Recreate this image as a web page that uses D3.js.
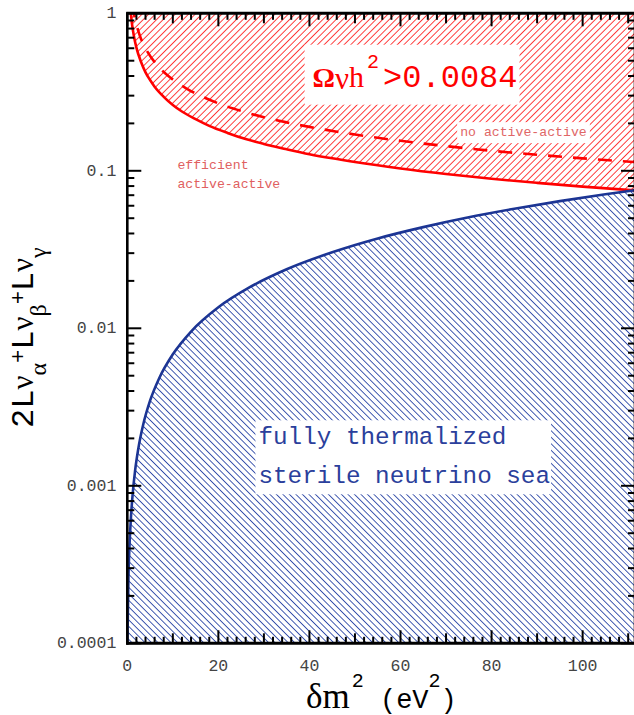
<!DOCTYPE html>
<html><head><meta charset="utf-8">
<script src="https://cdn.jsdelivr.net/npm/d3@7"></script>
<style>
html,body{margin:0;padding:0;background:#fff;}
svg{display:block;}
</style></head>
<body>
<svg id="chart" width="634" height="715"></svg>
<script>
// ---- data ----
const xDomain = [0, 111.5];
const yDomain = [1e-4, 1];

// solid red boundary (Omega h^2 > 0.0084 region lies above it)
const redSolidX = [0.78, 1, 1.5, 2, 3, 4, 5, 6, 8, 10, 12, 15, 18, 22, 26, 30, 35, 40, 45, 50, 60, 70, 80, 90, 100, 111.5];
const redSolidY = [1.0, 0.87, 0.705, 0.605, 0.492, 0.422, 0.377, 0.342, 0.295, 0.262, 0.238, 0.213, 0.193, 0.174, 0.159, 0.148, 0.137, 0.1275, 0.120, 0.1137, 0.1035, 0.0955, 0.089, 0.0838, 0.0793, 0.075];

// dashed red boundary (no active-active)
const dashedX = [1.44, 2, 3, 4, 6, 8, 10, 13, 16, 20, 25, 30, 35, 40, 50, 60, 70, 80, 90, 100, 111.5];
const dashedY = [1.0, 0.85, 0.69, 0.60, 0.49, 0.424, 0.38, 0.333, 0.30, 0.268, 0.24, 0.219, 0.203, 0.19, 0.17, 0.155, 0.1435, 0.134, 0.1265, 0.12, 0.1136];

// blue boundary (fully thermalized region lies below it)
const blueX = [0.02, 0.25, 0.5, 0.8, 1.2, 1.7, 2.4, 3.5, 5, 7, 10, 14, 20, 27, 35, 45, 55, 65, 75, 85, 95, 105, 111.5];
const blueY = [0.0001, 0.00026, 0.00043, 0.00063, 0.00090, 0.00124, 0.00171, 0.00245, 0.00347, 0.00482, 0.00684, 0.00954, 0.01359, 0.0183, 0.0237, 0.0304, 0.0372, 0.0439, 0.0507, 0.0574, 0.0642, 0.0710, 0.0753];

const xTickLabels = [0, 20, 40, 60, 80, 100];
const yTickValues = [1e-4, 1e-3, 1e-2, 1e-1, 1];
const yTickLabels = ["0.0001", "0.001", "0.01", "0.1", "1"];

// ---- layout ----
const svg = d3.select("#chart");
const L = 127.3, R = 635, T = 13.3, B = 643.3;
const x = d3.scaleLinear().domain(xDomain).range([L, R]);
const y = d3.scaleLog().domain(yDomain).range([B, T]);

const RED = "#ff0000", BLUE = "#1c3594";
const mono = "'Liberation Mono', 'Courier New', monospace";
const serif = "'Liberation Serif', 'Times New Roman', serif";

const defs = svg.append("defs");
defs.append("clipPath").attr("id", "plotclip").append("rect")
  .attr("x", L).attr("y", T).attr("width", R - L).attr("height", B - T);

function hatch(id, color, angle, gap, w) {
  const p = defs.append("pattern").attr("id", id)
    .attr("patternUnits", "userSpaceOnUse")
    .attr("width", gap).attr("height", gap)
    .attr("patternTransform", `rotate(${angle})`);
  p.append("line").attr("x1", gap / 2).attr("y1", -1).attr("x2", gap / 2).attr("y2", gap + 1)
    .attr("stroke", color).attr("stroke-width", w);
}
hatch("redHatch", "#ff2a2a", 45, 4.7, 0.9);
hatch("blueHatch", "#2f4aa8", -45, 4.6, 0.9);

const redData = redSolidX.map((v, i) => [v, redSolidY[i]]);
const dashData = dashedX.map((v, i) => [v, dashedY[i]]);
const blueData = blueX.map((v, i) => [v, blueY[i]]);

const plot = svg.append("g").attr("clip-path", "url(#plotclip)");

// filled (hatched) regions
plot.append("path").datum(redData)
  .attr("d", d3.area().x(d => x(d[0])).y0(y(1)).y1(d => y(d[1])).curve(d3.curveMonotoneX))
  .attr("fill", "url(#redHatch)");
plot.append("path").datum(blueData)
  .attr("d", d3.area().x(d => x(d[0])).y0(y(1e-4)).y1(d => y(d[1])).curve(d3.curveMonotoneX))
  .attr("fill", "url(#blueHatch)");

// curves
const line = d3.line().x(d => x(d[0])).y(d => y(d[1])).curve(d3.curveMonotoneX);
plot.append("path").datum(redData).attr("d", line)
  .attr("fill", "none").attr("stroke", RED).attr("stroke-width", 2.6);
plot.append("path").datum(dashData).attr("d", line)
  .attr("fill", "none").attr("stroke", RED).attr("stroke-width", 2.6)
  .attr("stroke-dasharray", "14,11").attr("stroke-dashoffset", 10);
plot.append("path").datum(blueData).attr("d", line)
  .attr("fill", "none").attr("stroke", BLUE).attr("stroke-width", 2.6);

// ---- annotations with white boxes ----
const ann = svg.append("g");
function boxed(textSel, padL, padR, padT, padB) {
  const bb = textSel.node().getBBox();
  ann.insert("rect", () => textSel.node())
    .attr("x", bb.x - padL).attr("y", bb.y - padT)
    .attr("width", bb.width + padL + padR).attr("height", bb.height + padT + padB)
    .attr("fill", "#fff");
}

// Omega label
const om = ann.append("text").attr("x", x(40.7)).attr("y", y(0.342)).attr("fill", RED);
om.append("tspan").attr("font-family", serif).attr("font-weight", "bold").attr("font-size", 28).text("Ω");
om.append("tspan").attr("font-family", serif).attr("font-size", 31).attr("dy", 2).text("ν");
om.append("tspan").attr("font-family", serif).attr("font-size", 30).attr("dy", -2).text("h");
om.append("tspan").attr("font-family", mono).attr("font-size", 20).attr("dx", 3).attr("dy", -19).text("2");
om.append("tspan").attr("font-family", mono).attr("font-size", 32).attr("dx", 4).attr("dy", 19).text(">0.0084");
boxed(om, 8, 2, 6, 8);

// no active-active
const na = ann.append("text").attr("x", x(73.1)).attr("y", y(0.166))
  .attr("font-family", mono).attr("font-size", 13.2).attr("fill", "#e06666").text("no active-active");
boxed(na, 3, 3, 3, 3);

// efficient active-active
const ef = ann.append("g").attr("font-family", mono).attr("font-size", 13.2).attr("fill", "#e06060");
ef.append("text").attr("x", x(11.0)).attr("y", y(0.103)).text("efficient");
ef.append("text").attr("x", x(11.0)).attr("y", y(0.0778)).text("active-active");

// blue label
const bl = ann.append("text").attr("font-family", mono).attr("font-size", 24.3).attr("fill", "#2b3f9c");
bl.append("tspan").attr("x", x(28.8)).attr("y", y(0.001835)).text("fully thermalized");
bl.append("tspan").attr("x", x(28.8)).attr("y", y(0.001037)).text("sterile neutrino sea");
boxed(bl, 3, 1, 4, 4);

// ---- axes ----
const ax = svg.append("g").attr("stroke", "#000").attr("stroke-linecap", "butt");
ax.append("line").attr("x1", L).attr("x2", L).attr("y1", T - 1).attr("y2", B + 1.5).attr("stroke-width", 2.6);
ax.append("line").attr("x1", L - 1).attr("x2", R).attr("y1", B).attr("y2", B).attr("stroke-width", 3);
ax.append("line").attr("x1", L - 1).attr("x2", R).attr("y1", T).attr("y2", T).attr("stroke-width", 3);
ax.append("line").attr("x1", R).attr("x2", R).attr("y1", T).attr("y2", B).attr("stroke-width", 2.6);

// x ticks (every 2, medium every 10, long every 20)
const xt = d3.range(0, 112, 2);
function xLen(v) { return v % 20 === 0 ? 13 : (v % 10 === 0 ? 10 : 6.5); }
ax.selectAll(".xtb").data(xt).join("line")
  .attr("x1", d => x(d)).attr("x2", d => x(d)).attr("y1", B).attr("y2", d => B - xLen(d)).attr("stroke-width", 2);
ax.selectAll(".xtt").data(xt).join("line")
  .attr("x1", d => x(d)).attr("x2", d => x(d)).attr("y1", T).attr("y2", d => T + xLen(d)).attr("stroke-width", 2);

// y ticks (log minor)
const yt = [];
for (let e = -4; e <= 0; e++) for (let m = 1; m <= 9; m++) { const v = m * Math.pow(10, e); if (v <= 1.0001) yt.push({v, major: m === 1}); }
ax.selectAll(".ytl").data(yt).join("line")
  .attr("x1", L).attr("x2", d => L + (d.major ? 14 : 7)).attr("y1", d => y(d.v)).attr("y2", d => y(d.v)).attr("stroke-width", 2);
ax.selectAll(".ytr").data(yt).join("line")
  .attr("x1", R).attr("x2", d => R - (d.major ? 14 : 7)).attr("y1", d => y(d.v)).attr("y2", d => y(d.v)).attr("stroke-width", 2);

// tick labels
const tl = svg.append("g").attr("font-family", mono).attr("font-size", 16.5).attr("fill", "#444");
tl.selectAll(".xl").data(xTickLabels).join("text")
  .attr("x", d => x(d)).attr("y", B + 28).attr("text-anchor", "middle").text(d => d);
tl.selectAll(".yl").data(yTickValues).join("text")
  .attr("x", L - 11).attr("y", d => y(d) + 5).attr("text-anchor", "end").text((d, i) => yTickLabels[i]);

// x axis title
const xl = svg.append("text").attr("x", 306).attr("y", 708).attr("fill", "#000");
xl.append("tspan").attr("font-family", serif).attr("font-size", 35).text("δm");
xl.append("tspan").attr("font-family", mono).attr("font-size", 20).attr("dx", 2).attr("dy", -21).text("2");
xl.append("tspan").attr("font-family", mono).attr("font-size", 27).attr("dy", 21).text(" (eV");
xl.append("tspan").attr("font-family", mono).attr("font-size", 20).attr("dy", -21).text("2");
xl.append("tspan").attr("font-family", mono).attr("font-size", 27).attr("dy", 21).text(")");

// y axis title
const yl = svg.append("text").attr("transform", "translate(33,428) rotate(-90)").attr("fill", "#000");
function ytsp(txt, fam, size, dy) { yl.append("tspan").attr("font-family", fam).attr("font-size", size).attr("dy", dy).text(txt); }
ytsp("2L", mono, 32, 0);
ytsp("ν", serif, 31, 0);
ytsp("α", serif, 24, 13);
ytsp("+", mono, 22, -21);
ytsp("L", mono, 32, 8);
ytsp("ν", serif, 31, 0);
ytsp("β", serif, 24, 13);
ytsp("+", mono, 22, -21);
ytsp("L", mono, 32, 8);
ytsp("ν", serif, 31, 0);
ytsp("γ", serif, 24, 13);
</script>
</body></html>
